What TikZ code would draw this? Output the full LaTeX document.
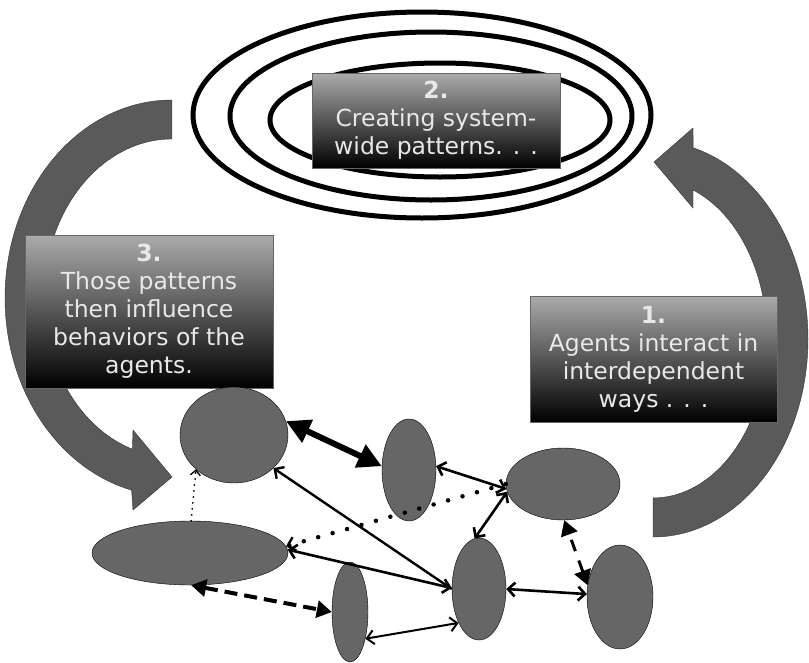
\documentclass[tikz,border=0pt]{standalone}
\usepackage{fontspec}
\setsansfont{DejaVu Sans}
\usepackage{tikz}
\usetikzlibrary{arrows.meta,shapes.geometric}
\definecolor{agentgray}{RGB}{102,102,102}
\definecolor{bandgray}{RGB}{90,90,90}
\definecolor{labeltext}{RGB}{232,232,232}
\tikzset{
    %Define standard arrow tip
    >={Straight Barb[length=7pt,width=14pt]},
    %Define style for agents
    agent/.style={
           ellipse,
           draw=black, thin,
           fill=agentgray,
           inner sep=0pt},
    %Define style for the text boxes
    stagebox/.style={
           rectangle,
           draw=black!60, thin,
           top color=black!33,
           middle color=black!78,
           bottom color=black,
           text=labeltext,
           align=center,
           inner sep=0pt,
           font=\sffamily\fontsize{23.5}{28}\selectfont},
    % Define style for the big curved arrows
    band/.style={
           fill=bandgray,
           draw=black!80, thin},
    ring/.style={
           draw=black, line width=5pt},
    % Define arrow styles
    link/.style={
           <->,
           line width=2.6pt},
    heavy/.style={
           {Triangle[length=24pt,width=24pt]}-{Triangle[length=24pt,width=24pt]},
           line width=6pt},
    dashlink/.style={
           {Triangle[length=15pt,width=17pt]}-{Triangle[length=15pt,width=17pt]},
           line width=4pt,
           dash pattern=on 13pt off 7pt},
    bigdots/.style={
           -{Straight Barb[length=7pt,width=14pt,line width=2.4pt]},
           line width=4.5pt,
           line cap=round,
           dash pattern=on 0pt off 15pt},
    smalldots/.style={
           -{Straight Barb[length=5pt,width=10pt,line width=1.4pt]},
           line width=2pt,
           line cap=round,
           dash pattern=on 0pt off 6pt}
}

\begin{document}
\begin{tikzpicture}[x=1pt,y=1pt]
\useasboundingbox (0,0) rectangle (809,-662);

% rings
\draw[ring] (422,-115) ellipse[x radius=229,y radius=103];
\draw[ring] (431,-116) ellipse[x radius=201,y radius=84];
\draw[ring] (440,-120) ellipse[x radius=170,y radius=57];

% curved arrows
\filldraw[band] (172,-100) arc[start angle=90,end angle=256,x radius=167,y radius=198]
    -- (133,-510) -- (172,-477) -- (133,-430) -- (132.4,-449.2)
    arc[start angle=252,end angle=90,x radius=128,y radius=159] -- cycle;
\filldraw[band] (653,-537) arc[start angle=270,end angle=435,x radius=155,y radius=198]
    -- (693,-128) -- (654,-162) -- (693,-208) -- (693,-190)
    arc[start angle=69.5,end angle=-90,x radius=114,y radius=159] -- cycle;

% boxes
\node[stagebox, minimum width=248, minimum height=95] (s2) at (436,-120.5)
    {\textbf{2.}\\Creating system-\\wide patterns. . .};
\node[stagebox, minimum width=248, minimum height=153] (s3) at (149,-311.5)
    {\textbf{3.}\\Those patterns\\then influence\\behaviors of the\\agents.};
\node[stagebox, minimum width=247, minimum height=126] (s1) at (653.5,-359)
    {\textbf{1.}\\Agents interact in\\interdependent\\ways . . .};

% agents
\node[agent, minimum width=108, minimum height=96] (a1) at (234,-435) {};
\node[agent, minimum width=54, minimum height=102] (a2) at (409,-470) {};
\node[agent, minimum width=196, minimum height=64] (a3) at (190,-553) {};
\node[agent, minimum width=36, minimum height=100] (a4) at (350,-612) {};
\node[agent, minimum width=54, minimum height=102] (a5) at (479,-589) {};
\node[agent, minimum width=114, minimum height=72] (a6) at (563,-484) {};
\node[agent, minimum width=66, minimum height=104] (a7) at (620,-597) {};

\path[heavy] (a1.15) edge (a2.172);
\path[link] (a5.178) edge (a3.2)
    (a4.-60) edge[line width=2pt] (a5.-121)
    (a2.8) edge (a6.185)
    (a6.188) edge (a5.95)
    (a5.0) edge (a7.175);
\path[->, line width=2.4pt] (a5.180) edge (a1.-40);
\path[dashlink] (a3.-88) edge (a4.180);
\path[dashlink, line width=3pt, dash pattern=on 12pt off 10pt] (a7.160) edge (a6.-88);
\path[bigdots] (a6.180) edge (a3.4);
\path[smalldots] (a3.88) edge (a1.-138);
\end{tikzpicture}
\end{document}
